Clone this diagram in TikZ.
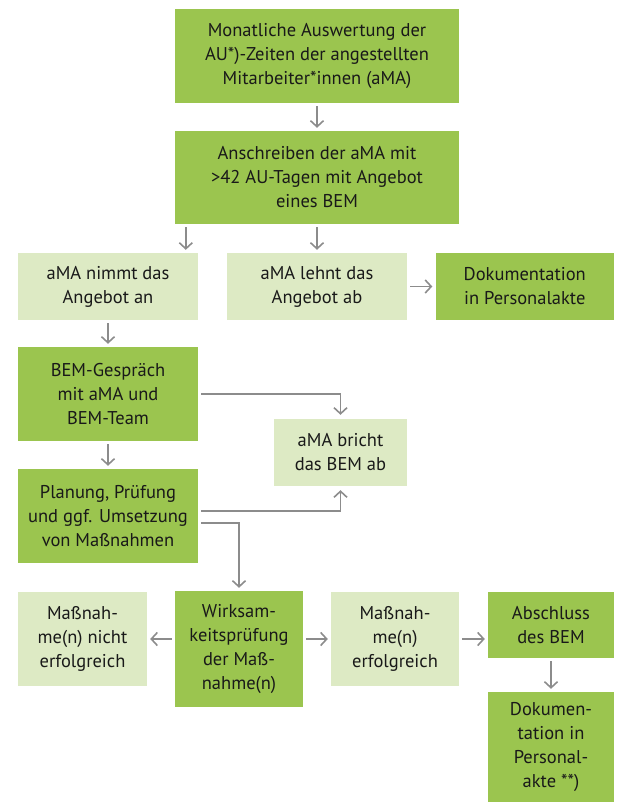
\documentclass[tikz,border=0pt]{standalone}
\usepackage{fontspec}
\setmainfont{PT Sans}
\usetikzlibrary{arrows.meta}
\definecolor{dkgreen}{HTML}{9BC54F}
\definecolor{ltgreen}{HTML}{DDEAC4}
\definecolor{arrowgray}{HTML}{8C8C8C}
\begin{document}
\begin{tikzpicture} [x=1pt,y=-1pt,every node/.style={inner sep=0pt,align=center,
text=black!90,font=\fontsize{18.5}{24}\selectfont},
dark/.style={fill=dkgreen},light/.style={fill=ltgreen},
box/.style args={#1x#2}{minimum width=#1pt,minimum height=#2pt},
flow/.style={draw=arrowgray,line width=1.6pt,shorten >=3pt,shorten <=3pt,
-{Straight Barb[length=6pt,width=13pt]}}]
\useasboundingbox (0,0) rectangle (616,803);
\node[dark,box=284x94] (auswert) at (317,56) {Monatliche Auswertung der\\AU*)-Zeiten der angestellten\\Mitarbeiter*innen (aMA)};
\node[dark,box=284x93] (anschr) at (317,177.5) {Anschreiben der aMA mit\\>42 AU-Tagen mit Angebot\\eines BEM};
\node[light,box=180x67] (nimmt) at (108,286.5) {aMA nimmt das\\Angebot an};
\node[light,box=180x67] (lehnt) at (317,286.5) {aMA lehnt das\\Angebot ab};
\node[dark,box=178.5x67] (doku1) at (524.75,286.5) {Dokumentation\\in Personalakte};
\node[dark,box=180x94] (gespr) at (108,394) {BEM-Gespräch\\mit aMA und\\BEM-Team};
\node[light,box=133x67] (bricht) at (340.5,452.5) {aMA bricht\\das BEM ab};
\node[dark,box=180x94] (planung) at (108,516) {Planung, Prüfung\\und ggf. Umsetzung\\von Maßnahmen};
\node[dark,box=128x116] (wirk) at (239,649) {Wirksam-\\keitsprüfung\\der Maß-\\nahme(n)};
\node[light,box=129x94] (nicht) at (82.5,639) {Maßnah-\\me(n) nicht\\erfolgreich};
\node[light,box=128x94] (erfolg) at (395,639) {Maßnah-\\me(n)\\erfolgreich};
\node[dark,box=126x66] (abschl) at (551,625) {Abschluss\\des BEM};
\node[dark,box=126x110] (doku2) at (551,747) {Dokumen-\\tation in\\Personal-\\akte **)};

  \path[flow] (auswert) -- (anschr);
  \path[flow] ([xshift=11pt]anschr.south west) -- ([xshift=11pt]anschr.south west |- nimmt.north);
  \path[flow] (anschr) -- (lehnt); \path[flow] (lehnt) -- (doku1);
  \path[flow] (nimmt) -- (gespr); \path[flow] (gespr) -- (planung);
  \path[flow,shorten >=4pt] (gespr.east) -| (bricht.north);
  \path[flow,shorten >=4pt] ([yshift=5pt]planung.east) -| (bricht.south);
  \path[flow] ([yshift=-7pt]planung.east) -| (wirk.north);
  \path[flow] (wirk.west |- nicht) -- (nicht);
  \path[flow] (wirk.east |- erfolg) -- (erfolg);
  \path[flow] (erfolg) -- (erfolg -| abschl.west);
  \path[flow] (abschl) -- (doku2);
  \end{tikzpicture}
\end{document}
